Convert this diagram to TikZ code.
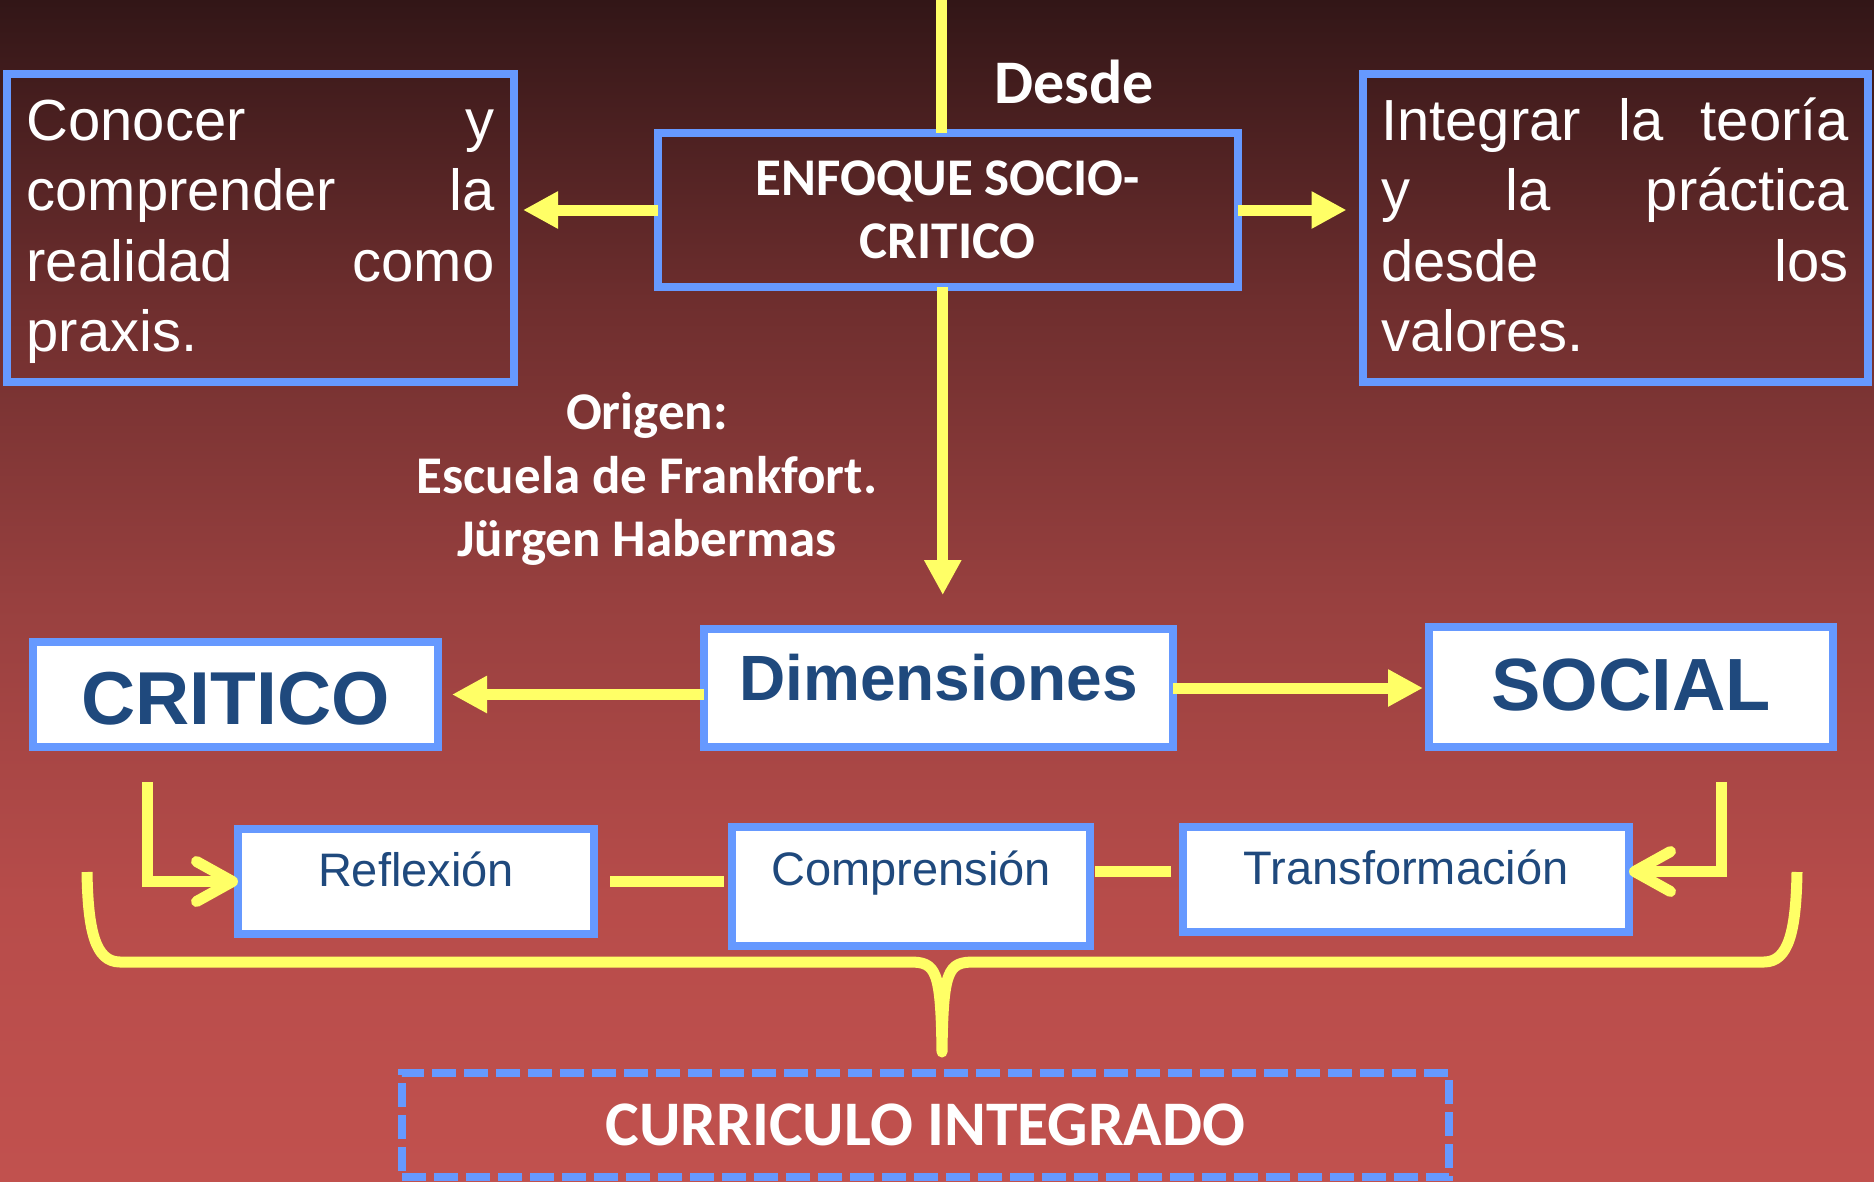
\documentclass[tikz,border=0pt]{standalone}
\usepackage{fontspec}
\setmainfont{Liberation Sans}
\newfontfamily\carlito{Carlito}
\usetikzlibrary{arrows.meta}

\definecolor{bgA}{RGB}{50,22,23}
\definecolor{bgB}{RGB}{110,46,46}
\definecolor{bgC}{RGB}{152,64,63}
\definecolor{bgD}{RGB}{183,76,74}
\definecolor{bgE}{RGB}{193,81,78}
\definecolor{boxblue}{RGB}{102,153,255}
\definecolor{arrowyellow}{RGB}{255,255,102}
\definecolor{textblue}{RGB}{31,73,125}

\newcommand{\firstline}{\rule{0pt}{56pt}}
\newcommand{\lastline}{\rule[-20.5pt]{0pt}{20.5pt}}

\begin{document}
\begin{tikzpicture}[x=1pt,y=-1pt,
	darkbox/.style={draw=boxblue,line width=8pt,inner sep=0pt,outer sep=0pt,text=white},
	whitebox/.style={draw=boxblue,fill=white,line width=8pt,inner sep=0pt,outer sep=0pt,text=textblue},
	yarrow/.style={draw=arrowyellow,line width=11pt,-{Triangle[length=35pt,width=35pt]}},
	link/.style={draw=arrowyellow,line width=11pt},
	bendarrow/.style={draw=arrowyellow,line width=11pt,-{Straight Barb[length=36pt,width=40pt,round]}},
	brace/.style={draw=arrowyellow,line width=11pt,line join=round},
	bigtext/.style={font=\fontsize{58}{70.5}\selectfont},
	boldcal/.style={font=\carlito\bfseries\fontsize{#1}{63.5}\selectfont}]
	\useasboundingbox (0,0) rectangle (1874,1181);
	\shade[top color=bgA,bottom color=bgB] (0,0) rectangle (1874,301);
	\shade[top color=bgB,bottom color=bgC] (0,300) rectangle (1874,601);
	\shade[top color=bgC,bottom color=bgD] (0,600) rectangle (1874,901);
	\shade[top color=bgD,bottom color=bgE] (0,900) rectangle (1874,1181);

	\node[darkbox,bigtext,minimum width=507pt,minimum height=308pt,text width=468pt,align=left] (conocer) at (260.5,228) {\firstline Conocer\hfill y\\comprender\hfill la\\realidad\hfill como\\praxis.\lastline};
	\node[darkbox,bigtext,minimum width=505pt,minimum height=308pt,text width=468pt,align=left] (integrar) at (1615,228) {\firstline Integrar\hfill la\hfill teoría\\y\hfill la\hfill práctica\\desde\hfill los\\valores.\lastline};
	\node[darkbox,boldcal=53,minimum width=580pt,minimum height=154pt,align=center] (enfoque) at (947.75,210) {ENFOQUE SOCIO-\\CRITICO};
	\node[text=white,boldcal=62] (desde) at (1074,82) {Desde};
	\node[text=white,boldcal=53,align=center] (origen) at (647,479) {Origen:\\Escuela de Frankfort.\\Jürgen Habermas};

	\node[whitebox,minimum width=405pt,text height=82.8pt,text depth=22.2pt,font=\bfseries\fontsize{75}{90}\selectfont] (critico) at (235.5,694.5) {CRITICO};
	\node[whitebox,minimum width=469pt,text height=71pt,text depth=47pt,font=\bfseries\fontsize{64}{77}\selectfont] (dimensiones) at (938.5,688) {Dimensiones};
	\node[whitebox,minimum width=404pt,text height=83pt,text depth=37pt,font=\bfseries\fontsize{74}{89}\selectfont] (social) at (1631,687) {SOCIAL};

	\node[whitebox,minimum width=356pt,text height=57pt,text depth=48pt,font=\fontsize{47}{56}\selectfont] (reflexion) at (416,881.5) {Reflexión};
	\node[whitebox,minimum width=358pt,text height=58pt,text depth=61pt,font=\fontsize{47}{56}\selectfont] (comprension) at (911,886.5) {Comprensión};
	\node[whitebox,minimum width=446pt,text height=57.4pt,text depth=47.6pt,font=\fontsize{47}{56}\selectfont] (transformacion) at (1406,879.5) {Transformación};

	\node[draw=boxblue,line width=7.3pt,dash pattern=on 24pt off 8pt,inner sep=0pt,minimum width=1047pt,minimum height=104pt,text=white,boldcal=63.5] (curriculo) at (925.5,1125) {CURRICULO INTEGRADO};

	\coordinate (top) at (941.5,0);
	\draw[link] (top) -- (top |- enfoque.north);
	\draw[yarrow,shorten >=9pt] (enfoque.west) -- (enfoque.west -| conocer.east);
	\draw[yarrow,shorten >=16pt] (enfoque.east) -- (enfoque.east -| integrar.west);
	\draw[yarrow,shorten >=34pt] ([xshift=-5pt]enfoque.south) -- ([xshift=-5pt]enfoque.south |- dimensiones.north);

	\draw[yarrow,shorten >=14pt] (dimensiones.west |- critico.east) -- (critico.east);
	\draw[yarrow,shorten >=6pt] (dimensiones.east) -- (dimensiones.east -| social.west);

	\draw[link,shorten <=16pt,shorten >=8pt] (reflexion.east) -- (reflexion.east -| comprension.west);
	\draw[link,shorten <=5pt,shorten >=12pt] ([yshift=8pt]transformacion.west -| comprension.east) -- ([yshift=8pt]transformacion.west);

	\coordinate (critico-out) at (147,782);
	\draw[bendarrow] (critico-out) |- (reflexion.west);
	\coordinate (social-out) at (1721.7,782);
	\draw[bendarrow] (social-out) |- ([yshift=8pt]transformacion.east);

	\draw[brace] (87,872) .. controls (88,930) and (95,962) .. (120,962) -- (910,962) .. controls (936,962) and (941,970) .. (942,1052) .. controls (943,970) and (948,962) .. (974,962) -- (1764,962) .. controls (1789,962) and (1796,930) .. (1797,872);
\end{tikzpicture}
\end{document}
